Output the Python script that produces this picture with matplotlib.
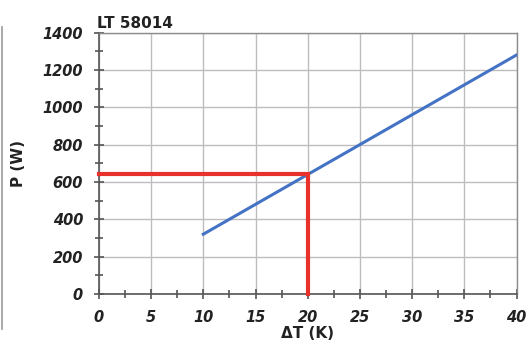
import numpy as np
import matplotlib.pyplot as plt
from matplotlib.lines import Line2D
from matplotlib.ticker import MultipleLocator

# characteristic of LT 58014
dT = [10, 40]
P = [320, 1280]

# operating point read-off
dT_op = 20
P_op = 645

fig = plt.figure(figsize=(5.26, 3.43), dpi=100, facecolor='white')
ax = fig.add_axes([0.188, 0.143, 0.794, 0.762])

ax.plot(dT, P, color='#4472C4', lw=2.2, zorder=3)
ax.plot([0, dT_op, dT_op], [P_op, P_op, 0], color='#E8312A', lw=3, zorder=4,
        solid_joinstyle='miter', clip_on=False)

ax.set_xlim(0, 40)
ax.set_ylim(0, 1400)
ax.xaxis.set_major_locator(MultipleLocator(5))
ax.xaxis.set_minor_locator(MultipleLocator(2.5))
ax.yaxis.set_major_locator(MultipleLocator(200))
ax.yaxis.set_minor_locator(MultipleLocator(100))
ax.grid(which='major', color='#BDBDBD', lw=1.0)
ax.set_axisbelow(True)

for s in ['top', 'right']:
    ax.spines[s].set_color('#8C8C8C')
    ax.spines[s].set_linewidth(1.0)
for s in ['left', 'bottom']:
    ax.spines[s].set_color('#555555')
    ax.spines[s].set_linewidth(1.2)

ax.tick_params(which='both', direction='inout', color='#555555', width=1.2)
ax.tick_params(which='major', length=7, pad=8, labelsize=10.5)
ax.tick_params(which='minor', length=6)
for lab in ax.get_xticklabels() + ax.get_yticklabels():
    lab.set_fontweight('bold')
    lab.set_fontstyle('italic')
    lab.set_color('#222222')

ax.set_xlabel('ΔT (K)', fontsize=11, fontweight='bold', color='#222222', labelpad=1)
ax.set_ylabel('P (W)', fontsize=11, fontweight='bold', color='#222222', labelpad=12)
ax.set_title('LT 58014', fontsize=11, fontweight='bold', loc='left', x=-0.005,
             pad=3, color='#222222')

fig.add_artist(Line2D([0.003, 0.003], [0.04, 0.92], color='#9A9A9A', lw=1.2,
                      transform=fig.transFigure))

plt.savefig('out.png', dpi=100, facecolor='white')
